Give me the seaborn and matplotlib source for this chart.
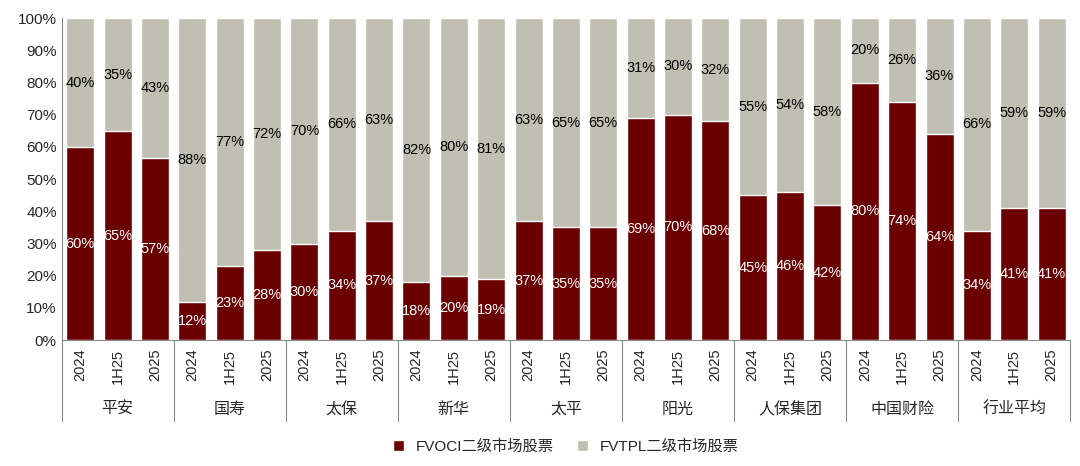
import numpy as np
import pandas as pd
import matplotlib.pyplot as plt
import seaborn as sns

companies = ['平安', '国寿', '太保', '新华', '太平', '阳光', '人保集团', '中国财险', '行业平均']
periods = ['2024', '1H25', '2025']
fvoci = [60, 65, 56.5, 12, 23, 28, 30, 34, 37, 18, 20, 19, 37, 35, 35,
         69, 70, 68, 45, 46, 42, 80, 74, 64, 34, 41, 41]
fvoci_lbl = [60, 65, 57, 12, 23, 28, 30, 34, 37, 18, 20, 19, 37, 35, 35,
             69, 70, 68, 45, 46, 42, 80, 74, 64, 34, 41, 41]
fvtpl_lbl = [40, 35, 43, 88, 77, 72, 70, 66, 63, 82, 80, 81, 63, 65, 65,
             31, 30, 32, 55, 54, 58, 20, 26, 36, 66, 59, 59]

sns.set_style('white')
plt.rcParams['font.family'] = ['Liberation Sans', 'Noto Sans CJK SC', 'DejaVu Sans']

keys = [f'{c}-{p}' for c in companies for p in periods]
df = pd.DataFrame({'key': keys, 'fvoci': fvoci, 'total': 100})

RED = '#6B0000'
GRAY = '#C0BFB1'

fig = plt.figure(figsize=(10.8, 4.66), dpi=100)
ax = fig.add_axes([0.057, 0.27, 0.934, 0.691])
sns.barplot(data=df, x='key', y='total', order=keys, color=GRAY, width=0.75,
            saturation=1, ax=ax, label='FVTPL二级市场股票')
sns.barplot(data=df, x='key', y='fvoci', order=keys, color=RED, width=0.75,
            saturation=1, ax=ax, label='FVOCI二级市场股票')

# labels centred in each segment
for i, (v, a, b) in enumerate(zip(fvoci, fvoci_lbl, fvtpl_lbl)):
    ax.text(i, v / 2, f'{a}%', ha='center', va='center', color='white', fontsize=10.5)
    ax.text(i, (v + 100) / 2, f'{b}%', ha='center', va='center', color='black', fontsize=10.5)

ax.set_ylim(0, 100)
ax.set_xlim(-0.5, len(keys) - 0.5)
ax.set_yticks(np.arange(0, 101, 10))
ax.set_yticklabels([f'{t}%' for t in range(0, 101, 10)], fontsize=11)
ax.set_xticks(range(len(keys)))
ax.set_xticklabels(periods * len(companies), rotation=90, fontsize=10.5)
ax.tick_params(axis='x', length=0, pad=6)
ax.tick_params(axis='y', length=0)
ax.set_xlabel('')
ax.set_ylabel('')
for s in ['top', 'right']:
    ax.spines[s].set_visible(False)
for s in ['left', 'bottom']:
    ax.spines[s].set_color('#888888')

# group separators and company names
trans = ax.get_xaxis_transform()
for g in range(len(companies) + 1):
    x = g * 3 - 0.5
    ax.plot([x, x], [0, -0.25], transform=trans, color='#888888', lw=0.8, clip_on=False)
for g, c in enumerate(companies):
    ax.text(g * 3 + 1, -0.215, c, transform=trans, ha='center', va='center', fontsize=11.5)

h, l = ax.get_legend_handles_labels()
ax.legend(h[::-1], l[::-1], loc='center', bbox_to_anchor=(0.5, -0.33), ncol=2,
          frameon=False, fontsize=11, handlelength=0.7, handleheight=0.7, columnspacing=1.5)

fig.savefig('out.png', dpi=100)
